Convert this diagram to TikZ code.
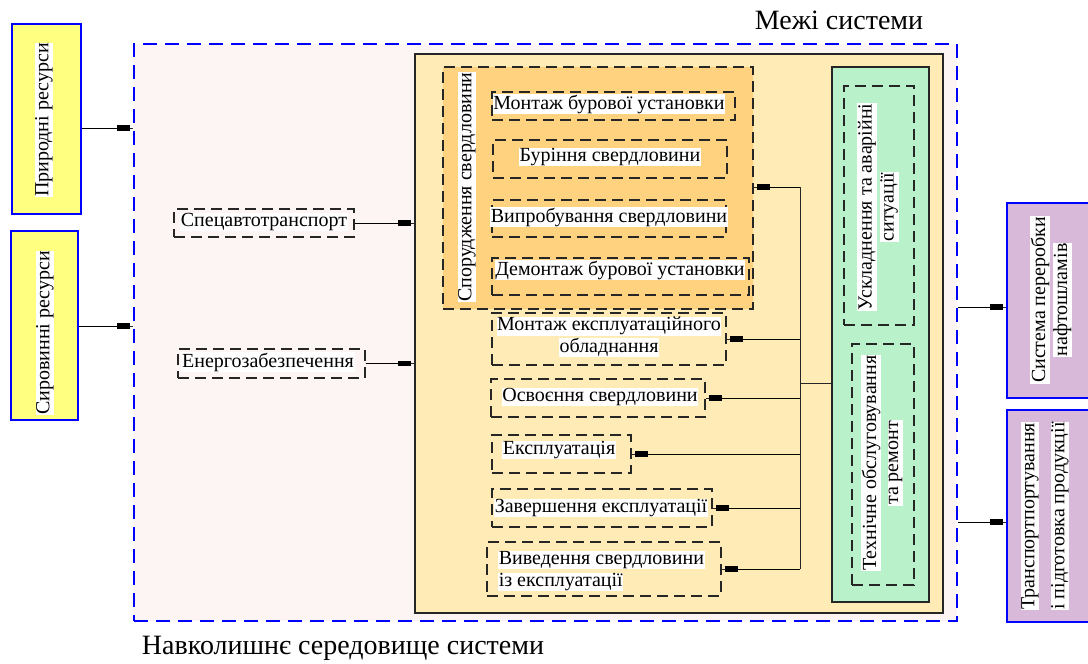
\documentclass[tikz,border=0pt]{standalone}
\usepackage{fontspec}
\setmainfont{Liberation Serif}
\usetikzlibrary{arrows.meta}
\definecolor{resy}{HTML}{FFFF80}
\definecolor{sysbg}{HTML}{FDF5F3}
\definecolor{innerbg}{HTML}{FFEBB5}
\definecolor{orangebg}{HTML}{FFD27F}
\definecolor{greenbg}{HTML}{B9F2CA}
\definecolor{purplebg}{HTML}{D9B9DA}
\definecolor{linec}{HTML}{262626}
\setlength{\fboxsep}{0.6pt}
\newcommand{\wl}[1]{\colorbox{white}{#1}}
\newcommand{\fs}{\fontsize{20}{22}\selectfont}
\begin{document}
\begin{tikzpicture}[x=1pt,y=-1pt,
  res/.style={draw=blue, line width=2pt, fill=resy, inner sep=0},
  pbox/.style={draw=blue, line width=2pt, fill=purplebg, inner sep=0},
  dbox/.style={draw=linec, dash pattern=on 11pt off 6pt, line width=1.3pt, inner sep=0},
  solidbox/.style={draw=linec, line width=1.3pt, inner sep=0},
  lbl/.style={fill=white, inner sep=0.6pt, font=\fs},
  mlbl/.style={inner sep=0pt, font=\fs},
  wire/.style={draw=linec, line width=1pt},
  conn/.style={draw=linec, line width=1pt, postaction={draw=black, line width=1pt, -{Rectangle[length=13pt,width=5.5pt]}, shorten >=3pt}},
]
\useasboundingbox (0,0) rectangle (1088,664);

% system boundary
\node[draw=blue, fill=sysbg, line width=2.5pt, dash pattern=on 14pt off 8pt, minimum width=823pt, minimum height=577pt, inner sep=0] (sys) at (545.5,332.5) {};
\node[font=\fontsize{28}{30}\selectfont, inner sep=0] (title) at (839,20) {Межі системи};
\node[font=\fontsize{28}{30}\selectfont, inner sep=0] (env) at (343,648) {Навколишнє середовище системи};

% resources
\node[res, minimum width=69pt, minimum height=190pt] (res1) at (46.5,119) {};
\node[lbl, rotate=90] (res1t) at (44,120) {Природні ресурси};
\node[res, minimum width=67pt, minimum height=189pt] (res2) at (44.5,325.5) {};
\node[lbl, rotate=90] (res2t) at (45,333) {Сировинні ресурси};
\draw[conn] (res1.east |- 0,128) -- (sys.west |- 0,128);
\draw[conn] (res2.east |- 0,326) -- (sys.west |- 0,326);

% right boxes
\node[pbox, minimum width=90pt, minimum height=195pt] (p1) at (1052,300.5) {};
\node[mlbl, rotate=90, align=center] (p1t) at (1051,300) {\wl{Система переробки}\\\wl{нафтошламів}};
\node[pbox, minimum width=90pt, minimum height=212pt] (p2) at (1052,516) {};
\node[mlbl, rotate=90, align=left] (p2t) at (1045,516) {\wl{Транспортпортування}\\[8pt]\wl{і підготовка продукції}};
\draw[conn] (sys.east |- 0,307) -- (p1.west |- 0,307);
\draw[conn] (sys.east |- 0,522) -- (p2.west |- 0,522);

% inputs inside system
\node[dbox, minimum width=180pt, minimum height=28pt] (spec) at (264,223) {};
\node[lbl] (spect) at (264,222) {Спецавтотранспорт};
\node[dbox, minimum width=187pt, minimum height=29pt] (energ) at (271.5,363.5) {};
\node[lbl] (energt) at (268,362) {Енергозабезпечення};

% inner box
\node[solidbox, fill=innerbg, minimum width=528pt, minimum height=559pt] (inner) at (679,333.5) {};
\draw[conn] (spec.east) -- (inner.west |- spec.east);
\draw[conn] (energ.east) -- (inner.west |- energ.east);

% construction group
\node[dbox, fill=orangebg, minimum width=310pt, minimum height=242pt] (orange) at (598,188) {};
\node[lbl, rotate=90] (oranget) at (467,187) {Спорудження свердловини};
\node[dbox, minimum width=243pt, minimum height=28pt] (s1) at (613.5,106) {};
\node[lbl] (s1t) at (609,104) {Монтаж бурової установки};
\node[dbox, minimum width=234pt, minimum height=38pt] (s2) at (610,159) {};
\node[lbl] (s2t) at (610,157) {Буріння свердловини};
\node[dbox, minimum width=234pt, minimum height=37pt] (s3) at (609,218.5) {};
\node[lbl] (s3t) at (609,217) {Випробування свердловини};
\node[dbox, minimum width=257pt, minimum height=37pt] (s4) at (620.5,276.5) {};
\node[lbl] (s4t) at (620,270) {Демонтаж бурової установки};

% operation stages
\node[dbox, minimum width=234pt, minimum height=52pt] (e1) at (609,339) {};
\node[mlbl, align=center] (e1t) at (609,337) {\wl{Монтаж експлуатаційного}\\\wl{обладнання}};
\node[dbox, minimum width=214pt, minimum height=38pt] (e2) at (598,398) {};
\node[lbl] (e2t) at (600,397) {Освоєння свердловини};
\node[dbox, minimum width=139pt, minimum height=38pt] (e3) at (561.5,454) {};
\node[lbl] (e3t) at (559,450) {Експлуатація};
\node[dbox, minimum width=220pt, minimum height=38pt] (e4) at (602,508) {};
\node[lbl] (e4t) at (601,508) {Завершення експлуатації};
\node[dbox, minimum width=234pt, minimum height=54pt] (e5) at (604,569) {};
\node[mlbl, align=left, anchor=west] (e5t) at (498,571) {\wl{Виведення свердловини}\\\wl{із експлуатації}};

% green block
\node[solidbox, fill=greenbg, minimum width=97pt, minimum height=535pt] (green) at (880.5,334.5) {};
\node[dbox, minimum width=70pt, minimum height=239pt] (g1) at (879,205.5) {};
\node[mlbl, rotate=90, align=center] (g1t) at (878,207) {\wl{Ускладнення та аварійні}\\\wl{ситуації}};
\node[dbox, minimum width=62pt, minimum height=241pt] (g2) at (883,464.5) {};
\node[mlbl, rotate=90, align=center] (g2t) at (882,463) {\wl{Технічне обслуговування}\\\wl{та ремонт}};

% bus
\coordinate (busT) at (800,187);
\coordinate (busB) at (800,569);
\draw[wire] (busT) -- (busB);
\draw[wire] (green.west |- 0,383) -- (busT |- 0,383);
\draw[conn] (busT) -- (orange.east |- busT);
\draw[conn] (busT |- e1.east) -- (e1.east);
\draw[conn] (busT |- e2.east) -- (e2.east);
\draw[conn] (busT |- e3.east) -- (e3.east);
\draw[conn] (busT |- e4.east) -- (e4.east);
\draw[conn] (busB) -- (e5.east |- busB);
\end{tikzpicture}
\end{document}
